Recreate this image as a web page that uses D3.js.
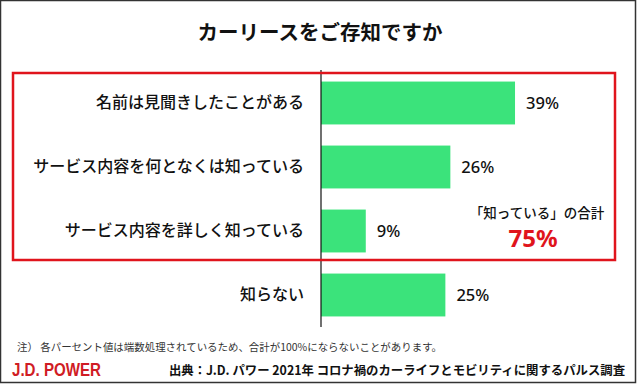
<!DOCTYPE html>
<html>
<head>
<meta charset="utf-8">
<script src="https://cdn.jsdelivr.net/npm/d3@7"></script>
<style>
  html, body { margin: 0; padding: 0; background: #fff; }
  svg { display: block; }
  text { font-family: "Noto Sans CJK JP", "Noto Sans", sans-serif; }
</style>
</head>
<body>
<svg id="chart" width="640" height="384"></svg>
<script>
const title = "カーリースをご存知ですか";
const categories = [
  "名前は見聞きしたことがある",
  "サービス内容を何となくは知っている",
  "サービス内容を詳しく知っている",
  "知らない"
];
const values = [39, 26, 9, 25];
const totalLabel = "「知っている」の合計";
const totalValue = "75%";
const footnote = "注） 各パーセント値は端数処理されているため、合計が100%にならないことがあります。";
const brand = "J.D. POWER";
const source = "出典：J.D. パワー 2021年 コロナ禍のカーライフとモビリティに関するパルス調査";

const svg = d3.select("#chart");

// outer frame
svg.append("rect")
  .attr("x", 0.5).attr("y", 0.5).attr("width", 635).attr("height", 382)
  .attr("fill", "#fff").attr("stroke", "#333").attr("stroke-width", 1.5);

// title
svg.append("text")
  .attr("x", 320).attr("y", 40)
  .attr("text-anchor", "middle")
  .attr("font-size", 20.5).attr("font-weight", 700).attr("fill", "#111")
  .text(title);

const x = d3.scaleLinear().domain([0, 40]).range([321, 520]);
const y = d3.scaleBand().domain(categories).range([71, 327])
  .paddingInner(0.33).paddingOuter(0.165);

// bars
svg.append("g").selectAll("rect")
  .data(values)
  .join("rect")
  .attr("x", x(0))
  .attr("y", (d, i) => y(categories[i]))
  .attr("width", d => x(d) - x(0))
  .attr("height", y.bandwidth())
  .attr("fill", "#3be37b");

// axis line (category axis)
const yAxis = svg.append("g")
  .attr("transform", `translate(${x(0)},0)`)
  .call(d3.axisLeft(y).tickSize(0).tickPadding(17));
yAxis.select(".domain").attr("stroke", "#111").attr("stroke-width", 1.2)
  .attr("d", `M0,70V327`);
yAxis.selectAll(".tick text")
  .attr("font-size", 16).attr("font-weight", 500).attr("fill", "#111")
  .style("font-family", '"Noto Sans CJK JP", sans-serif');

// value labels
svg.append("g").selectAll("text")
  .data(values)
  .join("text")
  .attr("x", d => x(d) + 11)
  .attr("y", (d, i) => y(categories[i]) + y.bandwidth() / 2)
  .attr("dy", "0.36em")
  .attr("font-size", 16.5).attr("font-weight", 500).attr("fill", "#111")
  .style("font-family", '"Noto Sans", sans-serif')
  .text(d => d + "%");

// red highlight box
svg.append("rect")
  .attr("x", 13).attr("y", 73).attr("width", 602).attr("height", 187)
  .attr("fill", "none").attr("stroke", "#e0141c").attr("stroke-width", 2.5);

// total annotation
svg.append("text")
  .attr("x", 537).attr("y", 218)
  .attr("text-anchor", "middle")
  .attr("font-size", 13.5).attr("font-weight", 500).attr("fill", "#111")
  .text(totalLabel);
svg.append("text")
  .attr("x", 533).attr("y", 247)
  .attr("text-anchor", "middle")
  .attr("font-size", 24).attr("font-weight", 700).attr("fill", "#e0141c")
  .style("font-family", '"Noto Sans", sans-serif')
  .text(totalValue);

// footnote
svg.append("text")
  .attr("x", 17).attr("y", 351)
  .attr("font-size", 10.5).attr("fill", "#333")
  .attr("textLength", 425).attr("lengthAdjust", "spacingAndGlyphs")
  .text(footnote);

// brand
svg.append("text")
  .attr("x", 12).attr("y", 376)
  .attr("font-size", 18).attr("font-weight", 700).attr("fill", "#d01c24")
  .style("font-family", '"Liberation Sans", sans-serif')
  .attr("textLength", 89).attr("lengthAdjust", "spacingAndGlyphs")
  .text(brand);

// source
svg.append("text")
  .attr("x", 169).attr("y", 375)
  .attr("font-size", 12.5).attr("font-weight", 700).attr("fill", "#111")
  .attr("textLength", 456).attr("lengthAdjust", "spacingAndGlyphs")
  .text(source);
</script>
</body>
</html>
